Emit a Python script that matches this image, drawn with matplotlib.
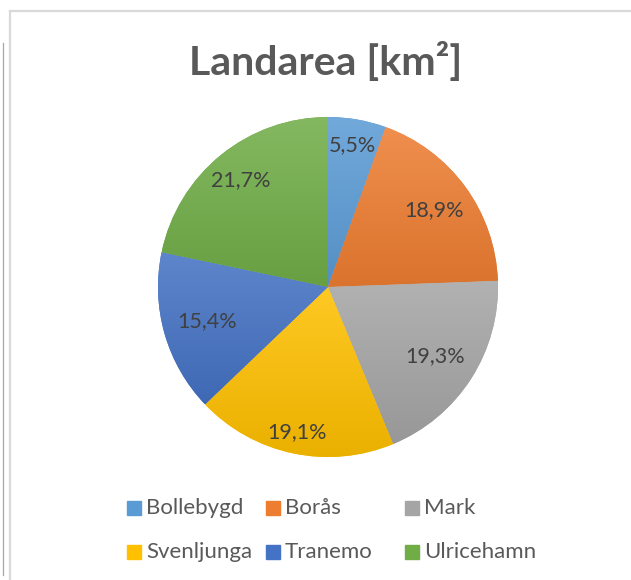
import numpy as np
import matplotlib
matplotlib.use('Agg')
import matplotlib.pyplot as plt
from matplotlib.lines import Line2D
from matplotlib.patches import Rectangle
from matplotlib.colors import to_rgb

plt.rcParams['font.family'] = ['Lato', 'DejaVu Sans']

kommuner = ['Bollebygd', 'Borås', 'Mark', 'Svenljunga', 'Tranemo', 'Ulricehamn']
andel = [5.5, 18.9, 19.3, 19.1, 15.4, 21.7]
farger = ['#5B9BD5', '#ED7D31', '#A5A5A5', '#FFC000', '#4472C4', '#70AD47']
# how far out each percent label sits (fraction of radius)
lbl_dist = [0.85, 0.77, 0.75, 0.87, 0.74, 0.81]

W, H = 631, 580
fig = plt.figure(figsize=(W / 100, H / 100), dpi=100)

# chart frame lines
fig.add_artist(Line2D([9.5 / W, 1], [1 - 11 / H, 1 - 11 / H], color='#d9d9d9', lw=1.6))
fig.add_artist(Line2D([9.5 / W, 9.5 / W], [0, 1 - 11 / H], color='#d9d9d9', lw=1.6))
fig.add_artist(Line2D([3 / W, 3 / W], [1 - 575 / H, 1 - 43 / H], color='#a6a6a6', lw=0.9))

fig.text(326 / W, 1 - 62 / H, 'Landarea [km²]', ha='center', va='center',
         fontsize=29.5, fontweight='bold', color='#595959')

cx, cy, r = 328, 287, 170
ax = fig.add_axes([(cx - r) / W, (H - cy - r) / H, 2 * r / W, 2 * r / H])
wedges, _ = ax.pie(andel, colors=farger, startangle=90, counterclock=False,
                   radius=1, wedgeprops=dict(linewidth=0))


def shade(c, t):
    c = np.array(to_rgb(c))
    if t >= 0:
        return c + (1 - c) * t
    return c * (1 + t)


# Excel-like soft gradient, lighter on top, darker at the bottom
for w, f in zip(wedges, farger):
    top = shade(f, 0.14)
    bot = shade(f, -0.08)
    s = np.linspace(0, 1, 256)[:, None, None]
    img = top * (1 - s) + bot * s
    img = np.repeat(img, 2, axis=1)
    ext = w.get_path().get_extents(w.get_transform() - ax.transData)
    im = ax.imshow(img, extent=[ext.x0, ext.x1, ext.y0, ext.y1], aspect='auto',
                   origin='upper', zorder=w.get_zorder() + 0.1, interpolation='bilinear')
    im.set_clip_path(w)

tot = sum(andel)
for w, v, d in zip(wedges, andel, lbl_dist):
    mid = np.deg2rad((w.theta1 + w.theta2) / 2)
    txt = f'{v / tot * 100:.1f}%'.replace('.', ',')
    ax.text(d * np.cos(mid), d * np.sin(mid), txt, ha='center', va='center',
            fontsize=15.5, color='#404040', zorder=5)
ax.set_xlim(-1, 1)
ax.set_ylim(-1, 1)
ax.set_aspect('equal')
ax.axis('off')

# legend, three equal columns like Excel
for i, (namn, f) in enumerate(zip(kommuner, farger)):
    col, row = i % 3, i // 3
    x0 = 127 + 139 * col
    y0 = 508 + 44 * row
    fig.add_artist(Rectangle((x0 / W, 1 - (y0 + 7) / H), 14 / W, 14 / H,
                             color=f, transform=fig.transFigure))
    fig.text((x0 + 19) / W, 1 - y0 / H, namn, ha='left', va='center',
             fontsize=16, color='#595959')

fig.savefig('out.png', dpi=100)
